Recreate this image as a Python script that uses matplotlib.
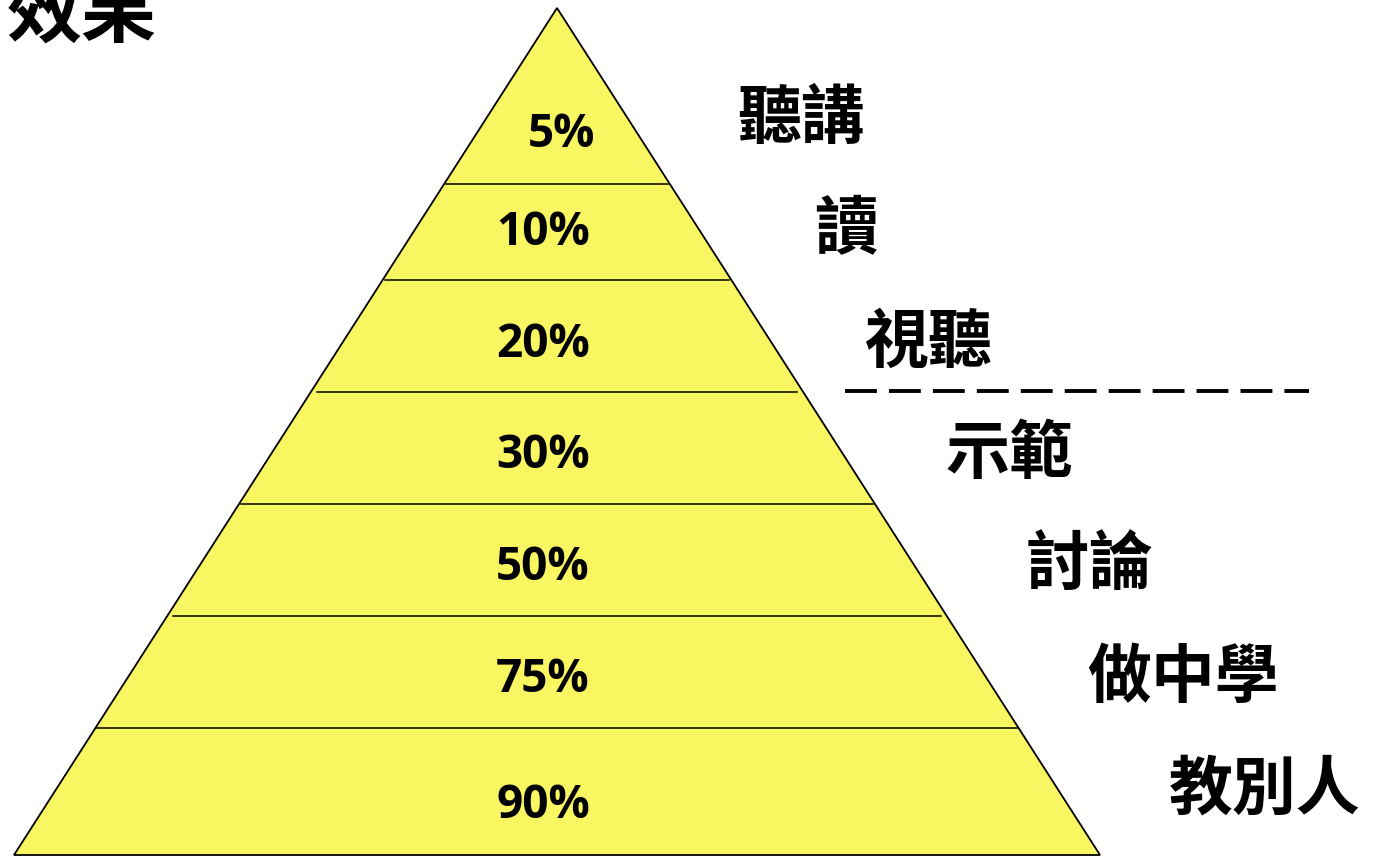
import matplotlib
matplotlib.use("Agg")
import matplotlib.pyplot as plt
from matplotlib.patches import Polygon

# learning pyramid data (top -> bottom)
percents = ["5%", "10%", "20%", "30%", "50%", "75%", "90%"]
methods = ["聽講", "讀", "視聽", "示範", "討論", "做中學", "教別人"]
title = "效果"

# layout in pixel coordinates
apex = (557, 8)
base_l, base_r = 14, 1100
bounds = [8, 184, 280, 392, 504, 616, 728, 855]
insets = [2, 2, 6, 2, 6, 2]
pct_pos = [(561, 134), (543, 232), (543, 344), (543, 455), (543, 567), (543, 679), (543, 805)]
lab_pos = [(801, 119), (846, 230), (928, 343), (1009, 454), (1089, 566), (1183, 678), (1265, 790)]

W, H = 1373, 856
fig = plt.figure(figsize=(W / 100, H / 100), dpi=100)
ax = fig.add_axes([0, 0, 1, 1])
ax.set_xlim(0, W)
ax.set_ylim(H, 0)
ax.axis("off")

yellow = "#F9F761"
tri = Polygon([apex, (base_l, bounds[-1]), (base_r, bounds[-1])], closed=True,
              facecolor=yellow, edgecolor="black", lw=1.3, zorder=1)
ax.add_patch(tri)

def edge_x(y):
    t = (y - apex[1]) / (bounds[-1] - apex[1])
    return apex[0] - t * (apex[0] - base_l), apex[0] + t * (base_r - apex[0])

for y, d in zip(bounds[1:-1], insets):
    xl, xr = edge_x(y)
    ax.plot([xl + d, xr - d], [y, y], color="black", lw=1.1, zorder=2)

for p, (x, y) in zip(percents, pct_pos):
    ax.text(x, y, p, ha="center", va="center", fontsize=33, fontweight="bold",
            family=["Open Sans", "DejaVu Sans"], zorder=3)

for m, (x, y) in zip(methods, lab_pos):
    ax.text(x, y, m, ha="center", va="center", fontsize=46,
            fontweight="heavy", family=["Noto Sans CJK TC", "DejaVu Sans"], zorder=3)

# title is partly cut off at the top-left, as in the source slide
ax.text(157, 15, title, ha="right", va="center", fontsize=54, fontweight="heavy",
        family=["Noto Sans CJK TC", "DejaVu Sans"])

ax.plot([845, 1309], [391, 391], color="black", lw=2.8, dashes=(8.2, 3.1),
        solid_capstyle="butt", dash_capstyle="butt")

fig.savefig("out.png", dpi=100)
